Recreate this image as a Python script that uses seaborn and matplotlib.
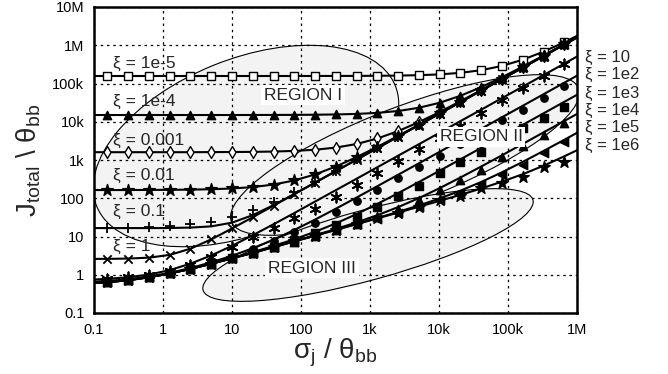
import numpy as np
import pandas as pd
import matplotlib
matplotlib.use("Agg")
import matplotlib.pyplot as plt
from matplotlib.patches import Ellipse
from matplotlib.transforms import Affine2D
import seaborn as sns

sns.set_theme(style="white")
plt.rcParams["font.family"] = ["Liberation Sans", "DejaVu Sans"]
plt.rcParams["mathtext.fontset"] = "custom"
plt.rcParams["mathtext.rm"] = "Liberation Sans"
plt.rcParams["mathtext.it"] = "Liberation Sans:italic"

# sigma_j / theta_bb: curve sample points (first and last only anchor the curves)
sigma = [0.1, 0.15625, 0.3125, 0.625, 1.25, 2.5, 5, 10, 20, 40, 80, 160, 320,
         640, 1280, 2560, 5120, 10240, 20480, 40960, 81920, 163840, 327680,
         655360, 1e6]
# simulated points sit on the interior samples
sigma_pts = sigma[1:-1]

# J_total / theta_bb, model curve for each xi
j_xi_1e_5 = [157000, 157000, 157000, 157000, 157000, 157000, 157000, 157000, 157000,
             157100, 157100, 157300, 157500, 158000, 159000, 161000, 165000, 173000,
             190000, 223000, 288000, 419000, 681000, 1200000, 1760000]
j_xi_1e_4 = [15000, 15000, 15000, 15000, 15000, 15000, 15000, 15000, 15030, 15060,
             15130, 15260, 15510, 16020, 17050, 19100, 23200, 31400, 47800, 80500,
             146000, 277000, 539000, 1060000, 1620000]
j_xi_1e_3 = [1600, 1600, 1600, 1600, 1600, 1600, 1610, 1616, 1632, 1664, 1728, 1856,
             2110, 2620, 3650, 5700, 9790, 18000, 34400, 67100, 133000, 264000,
             526000, 1050000, 1600000]
j_xi_1e_2 = [164, 164, 164, 165, 166, 168, 172, 180, 196, 228, 292, 420, 676, 1190,
             2210, 4260, 8360, 16500, 32900, 65700, 131000, 262000, 524000, 1050000,
             1600000]
j_xi_1e_1 = [16.6, 16.6, 16.6, 16.6, 16.7, 17.1, 18.4, 23, 36.2, 66, 129, 257, 512,
             1024, 2048, 4096, 8192, 16400, 32800, 65500, 131000, 262000, 524000,
             1050000, 1600000]
j_xi_1e0 = [2.6, 2.6, 2.65, 2.8, 3.3, 4.8, 8.4, 16.2, 32, 64, 128, 256, 512, 1024,
            2048, 4096, 8192, 16400, 32800, 65500, 131000, 262000, 524000, 1050000,
            1600000]
j_xi_1e1 = [0.75, 0.78, 0.86, 1.01, 1.32, 1.95, 3.2, 5.7, 10.8, 20.9, 41, 82, 163,
            324, 648, 1296, 2590, 5180, 10400, 20700, 41500, 82900, 166000, 332000,
            506000]
j_xi_1e2 = [0.66, 0.69, 0.76, 0.9, 1.12, 1.5, 2.11, 3.13, 4.94, 8.3, 14.8, 27.7, 53.3,
            104.5, 207, 412, 821, 1640, 3280, 6550, 13100, 26200, 52400, 105000,
            160000]
j_xi_1e3 = [0.61, 0.64, 0.72, 0.86, 1.08, 1.43, 1.95, 2.73, 3.89, 5.66, 8.48, 13.3,
            22, 38.6, 71.3, 136, 266, 525, 1043, 2080, 4150, 8300, 16600, 33200, 50600]
j_xi_1e4 = [0.61, 0.64, 0.72, 0.86, 1.08, 1.42, 1.94, 2.69, 3.77, 5.32, 7.56, 10.8,
            15.7, 23.4, 36.1, 58.7, 101, 184, 349, 677, 1330, 2640, 5270, 10500, 16000]
j_xi_1e5 = [0.61, 0.64, 0.72, 0.86, 1.08, 1.42, 1.94, 2.69, 3.72, 5.29, 7.46, 10.55,
            15.0, 21.3, 30.4, 44.0, 64.8, 98.7, 158, 267, 478, 895, 1725, 3380, 5130]
j_xi_1e6 = [0.61, 0.64, 0.72, 0.86, 1.08, 1.42, 1.94, 2.69, 3.72, 5.28, 7.45, 10.5,
            14.9, 21.1, 29.8, 42.2, 60, 85.6, 123, 180, 272, 426, 708, 1250, 1800]

# simulated points where they leave the model curve
pts_xi_1e_1 = [16.85, 17.1, 17.6, 18.6, 20.6, 24.6, 32.6, 48.6, 80.6, 145, 273, 529,
               1040, 2060, 4110, 8210, 16400, 32800, 65600, 131000, 262000, 524000,
               1050000]
pts_xi_1e1 = [0.78, 0.86, 1.0, 1.25, 1.75, 2.9, 5.3, 9.8, 16.6, 30, 52, 107, 220, 450,
              920, 1900, 3850, 7740, 16900, 37000, 78000, 160000, 325000]
pts_xi_1e2 = [0.69, 0.76, 0.9, 1.12, 1.5, 2.1, 3.0, 4.6, 7.5, 12.8, 23, 43, 84, 165,
              330, 660, 1310, 2620, 5240, 11100, 20300, 41800, 84000]
pts_xi_1e3 = [0.64, 0.72, 0.86, 1.08, 1.43, 1.95, 2.7, 3.8, 5.4, 8.0, 12.2, 19.5, 33,
              60, 112, 215, 457, 887, 1620, 3300, 6870, 12500, 24300]
pts_xi_1e4 = [0.64, 0.72, 0.86, 1.08, 1.42, 1.94, 2.69, 3.75, 5.25, 7.4, 10.4, 14.9,
              21.8, 33, 52, 88, 160, 300, 548, 1200, 2300, 4500, 9270]
pts_xi_1e5 = [0.64, 0.72, 0.86, 1.08, 1.42, 1.94, 2.69, 3.72, 5.25, 7.4, 10.4, 14.7,
              20.7, 29.2, 41.5, 60, 90, 140, 235, 405, 740, 1520, 2960]
pts_xi_1e6 = [0.64, 0.72, 0.86, 1.08, 1.42, 1.94, 2.69, 3.72, 5.28, 7.45, 10.5, 14.9,
              21.1, 29.8, 42.2, 60, 90, 115, 185, 250, 360, 656, 887]

xi_left_labels = ["ξ = 1e-5", "ξ = 1e-4", "ξ = 0.001", "ξ = 0.01", "ξ = 0.1", "ξ = 1"]
xi_right_labels = ["ξ = 10", "ξ = 1e2", "ξ = 1e3", "ξ = 1e4", "ξ = 1e5", "ξ = 1e6"]
region_labels = ["REGION I", "REGION II", "REGION III"]

x_ticks = [0.1, 1, 10, 100, 1e3, 1e4, 1e5, 1e6]
x_tick_labels = ["0.1", "1", "10", "100", "1k", "10k", "100k", "1M"]
y_ticks = [0.1, 1, 10, 100, 1e3, 1e4, 1e5, 1e6, 1e7]
y_tick_labels = ["0.1", "1", "10", "100", "1k", "10k", "100k", "1M", "10M"]

ASTERISK = (6, 2, 0)
# (curve, points or None, marker, face colour, marker size)
series = [
    (j_xi_1e_5, None, "s", "white", 30),
    (j_xi_1e_4, None, "^", "black", 36),
    (j_xi_1e_3, None, "d", "white", 36),
    (j_xi_1e_2, None, "*", "black", 75),
    (j_xi_1e_1, pts_xi_1e_1, "+", "black", 60),
    (j_xi_1e0, None, "x", "black", 36),
    (j_xi_1e1, pts_xi_1e1, ASTERISK, "black", 55),
    (j_xi_1e2, pts_xi_1e2, "o", "black", 28),
    (j_xi_1e3, pts_xi_1e3, "s", "black", 28),
    (j_xi_1e4, pts_xi_1e4, "^", "black", 36),
    (j_xi_1e5, pts_xi_1e5, "<", "black", 36),
    (j_xi_1e6, pts_xi_1e6, "*", "black", 75),
]

fig = plt.figure(figsize=(6.68, 3.74), dpi=100)
ax = fig.add_axes([94 / 668, 61 / 374, 483 / 668, 306 / 374])
ax.set_xscale("log")
ax.set_yscale("log")
ax.set_xlim(0.1, 1e6)
ax.set_ylim(0.1, 1e7)

# shaded regions, described in axes pixel units (483 x 306 box)
box = Affine2D().scale(1 / 483, 1 / 306) + ax.transAxes
for (cx, cy, a, b, ang) in [(152, 167, 161, 87, 22.0),
                            (311, 158, 186, 48, 21.0),
                            (274, 68, 171, 35, 15.3)]:
    ax.add_patch(Ellipse((cx, cy), 2 * a, 2 * b, angle=ang, transform=box,
                         facecolor="#f3f3f3", edgecolor="black", lw=0.8, zorder=1))

for curve, pts, mk, face, size in series:
    sns.lineplot(x=sigma, y=curve, ax=ax, color="black", lw=1.5,
                 estimator=None, sort=False, zorder=3)
    yvals = pts if pts is not None else curve[1:-1]
    dots = pd.DataFrame({"sigma": sigma_pts, "J": yvals})
    if mk in ("+", "x", ASTERISK):
        sns.scatterplot(data=dots, x="sigma", y="J", ax=ax, marker=mk, s=size,
                        color="black", linewidth=1.3, zorder=4)
    else:
        sns.scatterplot(data=dots, x="sigma", y="J", ax=ax, marker=mk, s=size,
                        color=face, edgecolor="black", linewidth=1.0, zorder=4)

ax.grid(True, which="major", color="black", linestyle=(0, (2, 3)), linewidth=0.9)
ax.set_axisbelow("line")
ax.minorticks_off()
ax.set_xticks(x_ticks, x_tick_labels)
ax.set_yticks(y_ticks, y_tick_labels)
ax.tick_params(length=0, labelsize=10.5, colors="black", pad=7)
for sp in ax.spines.values():
    sp.set_visible(True)
    sp.set_color("black")
    sp.set_linewidth(1.8)

ax.set_xlabel("σ$_{\\mathrm{j}}$ / θ$_{\\mathrm{bb}}$", fontsize=20)
ax.xaxis.set_label_coords(0.5, -0.13)
ax.xaxis.label.set_va("center")
ax.set_ylabel("J$_{\\mathrm{total}}$ \\ θ$_{\\mathrm{bb}}$", fontsize=20)
ax.yaxis.set_label_coords(-0.135, 0.5)
ax.yaxis.label.set_va("center")

# xi labels on the left, above each plateau
left_y = [3.4e5, 3.3e4, 3.3e3, 405, 44, 5.6]
for txt, yy in zip(xi_left_labels, left_y):
    ax.text(0.19, yy, txt, fontsize=12.5, ha="left", va="center", zorder=5)

# xi labels outside the right edge
right_fy = [(313 - y) / 306 for y in (57, 74, 93, 110, 127, 145)]
for txt, fy in zip(xi_right_labels, right_fy):
    ax.text(1.017, fy, txt, transform=ax.transAxes, fontsize=12, ha="left",
            va="center", clip_on=False)

region_pos = [(107, 5.0e4), (40700, 4000), (145, 1.5)]
for txt, (xx, yy) in zip(region_labels, region_pos):
    ax.text(xx, yy, txt, fontsize=12.5, ha="center", va="center", zorder=6,
            bbox=dict(facecolor="white", edgecolor="none", pad=2))

fig.savefig("out.png", dpi=100)
